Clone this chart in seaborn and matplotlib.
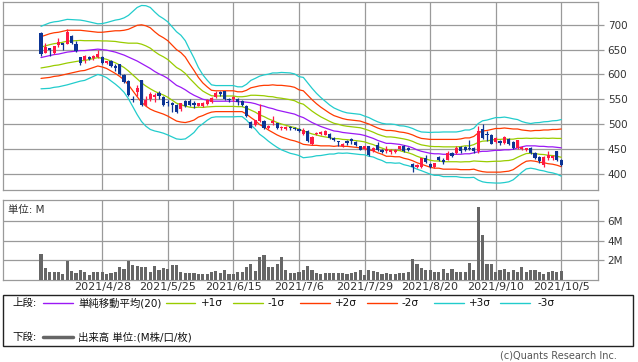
import numpy as np
import pandas as pd
import matplotlib
matplotlib.use("Agg")
import matplotlib.pyplot as plt
import seaborn as sns
from matplotlib.patches import Rectangle
from matplotlib.lines import Line2D

# ---------------- data ----------------
date_labels = ["2021/4/28", "2021/5/25", "2021/6/15", "2021/7/6",
               "2021/7/29", "2021/8/20", "2021/9/10", "2021/10/5"]
date_pos = [14, 29, 44, 59, 74, 89, 104, 119]

open_ = [684, 644, 653, 643, 660, 663, 661, 678, 662, 635,
         629, 636, 634, 635, 636, 623, 627, 616, 621, 598,
         586, 551, 564, 588, 539, 550, 555, 562, 554, 545,
         542, 539, 530, 547, 547, 542, 537, 537, 541, 545,
         555, 564, 566, 551, 551, 550, 546, 536, 505, 499,
         506, 506, 492, 502, 502, 491, 490, 494, 492, 490,
         479, 485, 459, 479, 480, 478, 480, 471, 465, 455,
         465, 469, 463, 455, 449, 455, 445, 458, 448, 446,
         443, 443, 449, 456, 451, 420, 414, 413, 431, 420,
         413, 434, 428, 428, 441, 441, 453, 453, 451, 451,
         445, 490, 480, 478, 463, 466, 461, 470, 463, 451,
         449, 447, 451, 441, 433, 418, 431, 431, 445, 428]
high = [686, 664, 654, 658, 673, 664, 691, 679, 668, 636,
        639, 637, 639, 650, 637, 628, 629, 622, 622, 600,
        588, 557, 579, 589, 556, 564, 562, 567, 556, 549,
        545, 540, 543, 549, 550, 547, 543, 545, 550, 555,
        566, 566, 567, 553, 556, 552, 549, 539, 506, 509,
        540, 508, 499, 516, 503, 497, 497, 496, 494, 491,
        492, 488, 475, 484, 485, 487, 481, 473, 466, 461,
        468, 471, 465, 456, 456, 456, 453, 463, 450, 455,
        449, 450, 456, 457, 454, 421, 419, 432, 438, 422,
        422, 436, 431, 445, 444, 456, 455, 455, 468, 453,
        497, 500, 485, 480, 473, 468, 475, 472, 465, 468,
        455, 452, 453, 443, 435, 435, 445, 438, 446, 429]
low = [638, 644, 637, 642, 656, 650, 661, 662, 646, 619,
       624, 629, 629, 633, 621, 622, 614, 607, 599, 582,
       557, 545, 556, 537, 537, 547, 545, 550, 537, 537,
       525, 523, 527, 535, 537, 532, 536, 535, 539, 543,
       553, 556, 549, 544, 546, 539, 536, 514, 491, 497,
       504, 490, 489, 499, 489, 487, 488, 488, 487, 484,
       477, 463, 457, 478, 478, 477, 470, 465, 456, 453,
       457, 460, 455, 447, 447, 436, 443, 445, 441, 441,
       439, 441, 447, 444, 445, 404, 412, 411, 422, 412,
       411, 425, 420, 427, 434, 440, 441, 446, 448, 441,
       442, 470, 465, 459, 461, 458, 460, 458, 449, 450,
       447, 445, 440, 430, 422, 414, 428, 428, 426, 416]
close = [641, 656, 650, 658, 665, 660, 686, 663, 648, 623,
         637, 631, 637, 642, 623, 627, 616, 613, 600, 584,
         559, 549, 572, 539, 549, 560, 559, 557, 538, 542,
         538, 525, 542, 537, 539, 539, 542, 543, 549, 553,
         563, 560, 551, 549, 554, 544, 539, 516, 492, 508,
         526, 492, 497, 507, 492, 494, 495, 491, 489, 485,
         487, 465, 473, 481, 483, 485, 471, 468, 463, 459,
         461, 465, 457, 448, 455, 438, 451, 448, 443, 450,
         447, 448, 455, 446, 448, 414, 418, 431, 424, 414,
         421, 427, 423, 441, 436, 451, 445, 448, 449, 445,
         485, 472, 478, 460, 472, 461, 474, 459, 451, 467,
         453, 451, 441, 431, 425, 433, 438, 436, 428, 418]
volume_m = [2.67, 1.27, 0.77, 0.77, 0.87, 0.6, 1.97, 0.97, 0.73, 1.07,
            0.77, 0.47, 0.77, 0.87, 0.87, 0.6, 0.7, 0.8, 1.3, 1.17,
            1.97, 1.57, 1.43, 1.37, 1.37, 0.77, 1.4, 1.07, 1.27, 1.17,
            1.57, 1.57, 0.77, 0.67, 0.67, 0.67, 0.57, 0.57, 0.63, 0.87,
            0.97, 0.67, 1.03, 0.57, 0.57, 0.87, 0.8, 1.3, 1.67, 0.97,
            2.4, 2.57, 1.37, 1.3, 1.67, 2.4, 1.07, 0.73, 0.67, 0.87,
            1.0, 1.47, 1.07, 0.67, 0.6, 0.73, 0.67, 0.67, 0.67, 0.67,
            0.57, 0.67, 0.8, 1.0, 0.5, 1.07, 0.93, 0.8, 0.6, 0.67,
            0.6, 0.63, 0.67, 0.7, 0.87, 2.17, 1.6, 1.27, 1.0, 1.07,
            0.87, 0.77, 1.13, 0.67, 1.13, 0.77, 0.77, 0.77, 1.77, 1.07,
            7.5, 4.57, 1.67, 1.67, 0.87, 1.07, 1.13, 0.87, 1.03, 0.87,
            1.37, 0.77, 1.07, 1.07, 0.77, 0.57, 0.77, 0.93, 0.77, 0.97]
sma20 = [634, 636, 638, 640, 641, 643, 645, 646, 647, 648,
         648, 649, 650, 651, 650, 649, 647, 645, 642, 639,
         635, 631, 627, 622, 617, 612, 606, 601, 597, 592,
         585, 578, 574, 569, 563, 558, 554, 550, 548, 546,
         546, 546, 546, 546, 546, 545, 545, 544, 543, 541,
         538, 536, 533, 531, 528, 526, 524, 522, 520, 516,
         513, 508, 503, 499, 495, 492, 489, 486, 485, 483,
         482, 481, 480, 479, 477, 474, 471, 467, 464, 461,
         461, 460, 459, 457, 455, 452, 448, 445, 443, 441,
         440, 440, 439, 439, 439, 439, 439, 440, 440, 442,
         444, 445, 445, 446, 447, 447, 448, 448, 449, 452,
         454, 456, 456, 456, 455, 455, 454, 454, 453, 452]
sigma = [21, 21.5, 22, 22, 22, 22, 22, 21.5, 21, 20.5,
         20, 19, 18, 17, 17.5, 18.5, 20, 21.5, 23, 25,
         28, 32, 36, 39, 40.5, 41, 40, 39, 38.5, 38,
         37, 36, 35, 33, 29, 25, 20, 16.5, 13.5, 11,
         10.5, 10.5, 10.5, 10.5, 10.5, 10, 10, 12, 15, 17,
         19.5, 21, 22.5, 24, 25, 26, 26.5, 27, 27, 26.5,
         27, 25, 23, 21, 19.5, 18, 16.5, 15.5, 14.5, 14,
         13.5, 13.5, 13.5, 13.5, 13, 13, 12.5, 12.5, 12.5, 13,
         13, 13, 12.5, 13, 13, 13, 13, 13, 13.5, 14,
         14.5, 14.5, 15, 15, 15, 15, 15.5, 16, 16, 16.5,
         19, 20.5, 21, 21.5, 22, 22, 22, 21.5, 20.5, 19,
         17, 15.5, 15, 15.5, 16, 16.5, 17, 17.5, 18, 19]

# ---------------- style ----------------
sns.set_style("white")
plt.rcParams['font.family'] = ['DejaVu Sans', 'Noto Sans CJK JP']

C_UP = '#ff1a44'
C_DN = '#0c3494'
C_SMA = '#9b19f5'
C_1 = '#99cc00'
C_2 = '#ff3a00'
C_3 = '#22cccc'
C_GRID = '#9a9a9a'
C_TXT = '#333333'

W, H = 638, 362
fig = plt.figure(figsize=(W / 100, H / 100), dpi=100)


def px_axes(l, t, r, b):
    return fig.add_axes([l / W, 1 - b / H, (r - l) / W, (b - t) / H])


ax_p = px_axes(3, 2, 598, 190)
ax_v = px_axes(3, 200, 598, 280)

n = len(close)
idx = np.arange(n)
sma = np.array(sma20, dtype=float)
sd = np.array(sigma, dtype=float)

bands = []
for name, k in [("sma", 0), ("p1", 1), ("m1", -1), ("p2", 2), ("m2", -2), ("p3", 3), ("m3", -3)]:
    bands.append(pd.DataFrame({"idx": idx, "value": sma + k * sd, "band": name}))
df_b = pd.concat(bands, ignore_index=True)
pal = {"sma": C_SMA, "p1": C_1, "m1": C_1, "p2": C_2, "m2": C_2, "p3": C_3, "m3": C_3}
sns.lineplot(data=df_b, x="idx", y="value", hue="band", palette=pal,
             legend=False, linewidth=0.9, estimator=None, ax=ax_p, zorder=2)

# candles
o = np.array(open_, float); c = np.array(close, float)
hi = np.array(high, float); lo = np.array(low, float)
cols = [C_UP if c[i] >= o[i] else C_DN for i in range(n)]
ax_p.vlines(idx, lo, hi, colors=cols, linewidth=0.9, zorder=3)
body_h = np.maximum(np.abs(c - o), 1.2)
ax_p.bar(idx, body_h, bottom=np.minimum(o, c), width=0.72, color=cols,
         linewidth=0, zorder=4)

xl = (-8.69, 127.4)
ax_p.set_xlim(*xl)
ax_p.set_ylim(367, 746)
ax_p.set_yticks([400, 450, 500, 550, 600, 650, 700])
ax_p.set_xticks(date_pos)
ax_p.set_xticklabels([])
ax_p.set_xlabel(""); ax_p.set_ylabel("")
ax_p.yaxis.tick_right()
ax_p.grid(True, color=C_GRID, linewidth=0.9)
ax_p.set_axisbelow(True)
ax_p.tick_params(axis='y', length=4, width=0.9, color=C_GRID, pad=3,
                 labelsize=7.5, labelcolor=C_TXT)
ax_p.tick_params(axis='x', length=0)

# volume
ax_v.bar(idx, volume_m, width=0.72, color='#666666', linewidth=0, zorder=3)
ax_v.set_xlim(*xl)
ax_v.set_ylim(0, 8.2)
ax_v.set_yticks([2, 4, 6])
ax_v.set_yticklabels(["2M", "4M", "6M"])
ax_v.yaxis.tick_right()
ax_v.set_xticks(date_pos)
ax_v.set_xticklabels(date_labels)
ax_v.grid(True, color=C_GRID, linewidth=0.9)
ax_v.set_axisbelow(True)
ax_v.tick_params(axis='y', length=4, width=0.9, color=C_GRID, pad=3,
                 labelsize=7.5, labelcolor=C_TXT)
ax_v.tick_params(axis='x', length=0, pad=1.5, labelsize=8, labelcolor=C_TXT)

for ax in (ax_p, ax_v):
    for sp in ax.spines.values():
        sp.set_color(C_GRID)
        sp.set_linewidth(0.9)

fig.text(8 / W, 1 - 210 / H, "単位: M", fontsize=7.5, color=C_TXT, va='center')

# legend box
fig.patches.append(Rectangle((3 / W, 1 - 346 / H), 630 / W, 51 / H,
                             transform=fig.transFigure, fill=False,
                             edgecolor='#222222', linewidth=1.0))


def leg_line(x0, x1, y, color, lw=1.0):
    fig.lines.append(Line2D([x0 / W, x1 / W], [1 - y / H, 1 - y / H],
                            transform=fig.transFigure, color=color, linewidth=lw))


def leg_text(x, y, s):
    fig.text(x / W, 1 - y / H, s, fontsize=7.5, color='#111111', va='center', ha='left')


y1, y2 = 303, 337
leg_text(12, y1, "上段:")
leg_line(43, 73, y1, C_SMA)
leg_text(78, y1, "単純移動平均(20)")
leg_line(166, 195, y1, C_1)
leg_text(201, y1, "+1σ")
leg_line(233, 263, y1, C_1)
leg_text(268, y1, "-1σ")
leg_line(300, 330, y1, C_2)
leg_text(335, y1, "+2σ")
leg_line(367, 397, y1, C_2)
leg_text(402, y1, "-2σ")
leg_line(434, 464, y1, C_3)
leg_text(469, y1, "+3σ")
leg_line(500, 530, y1, C_3)
leg_text(537, y1, "-3σ")

leg_text(12, y2, "下段:")
leg_line(43, 73, y2, '#666666', lw=2.5)
leg_text(78, y2, "出来高 単位:(M株/口/枚)")

fig.text(617 / W, 1 - 356 / H, "(c)Quants Research Inc.", fontsize=7,
         color='#555555', ha='right', va='center')

fig.savefig("out.png", dpi=100)
